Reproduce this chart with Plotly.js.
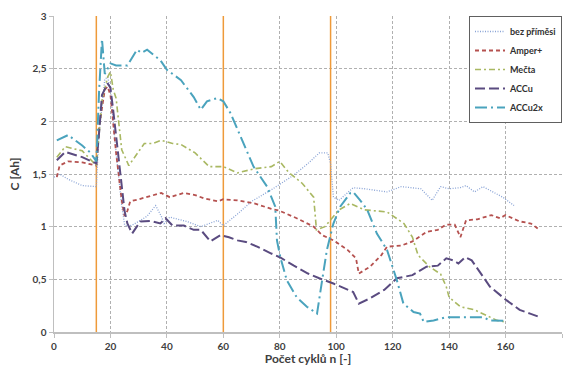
<!DOCTYPE html>
<html>
<head>
<meta charset="utf-8">
<script src="https://cdn.plot.ly/plotly-3.0.1.min.js"></script>
<style>html,body{margin:0;padding:0;background:#fff;}#chart{width:568px;height:370px;}</style>
</head>
<body>
<div id="chart"></div>
<script>
// ---- data ----
const seriesNames = ["bez příměsi", "Amper+", "Mečta", "ACCu", "ACCu2x"];

const bezX = [0, 2, 5, 10, 15, 16, 18, 19, 20, 22, 24, 25, 26, 28, 30, 33, 36, 38, 39, 41, 44, 47, 50, 52, 55, 58, 60, 65, 70, 77, 85, 90, 94, 97, 98, 99, 101, 106, 110, 118, 123, 130, 134, 137, 140, 144, 146, 149, 152, 156, 159, 163];
const bezY = [1.47, 1.5, 1.45, 1.39, 1.38, 1.9, 2.4, 2.42, 2.3, 1.7, 1.2, 1.02, 1.0, 1.02, 1.05, 1.1, 1.2, 1.1, 1.03, 1.09, 1.07, 1.05, 1.02, 1.0, 1.03, 1.06, 1.01, 1.12, 1.24, 1.35, 1.49, 1.6, 1.7, 1.7, 1.6, 1.28, 1.25, 1.37, 1.36, 1.33, 1.38, 1.36, 1.25, 1.38, 1.36, 1.37, 1.39, 1.33, 1.38, 1.32, 1.28, 1.2];

const amperX = [1, 2, 5, 10, 15, 16, 18, 19, 20, 22, 24, 25, 26, 27, 30, 33, 38, 41, 46, 50, 53, 58, 60, 65, 71, 77, 80, 86, 92, 95, 99, 104, 107, 108, 112, 116, 118, 123, 127, 132, 136, 139, 142, 144, 146, 150, 155, 158, 160, 165, 169, 172];
const amperY = [1.47, 1.58, 1.62, 1.61, 1.58, 1.95, 2.3, 2.33, 2.25, 1.7, 1.25, 1.1, 1.15, 1.24, 1.26, 1.28, 1.32, 1.28, 1.32, 1.3, 1.27, 1.24, 1.26, 1.25, 1.22, 1.17, 1.15, 1.08, 1.0, 0.92, 0.87, 0.78, 0.7, 0.555, 0.62, 0.73, 0.81, 0.82, 0.86, 0.95, 0.97, 1.02, 1.02, 0.9, 1.06, 1.07, 1.11, 1.08, 1.11, 1.05, 1.03, 0.97];

const mectaX = [1, 4, 10, 15, 17, 19, 20, 21, 22, 23, 24, 26.5, 29, 32, 35, 38, 42, 45, 50, 55, 60, 65, 71, 77, 80, 83, 88, 92, 93, 96, 101, 105, 110, 116, 118, 124, 127, 129, 133, 137, 139, 140, 144, 149, 153, 157, 160];
const mectaY = [1.66, 1.76, 1.72, 1.58, 2.2, 2.42, 2.47, 2.3, 2.22, 2.0, 1.73, 1.58, 1.68, 1.79, 1.79, 1.82, 1.79, 1.78, 1.7, 1.57, 1.57, 1.51, 1.55, 1.57, 1.62, 1.52, 1.41, 1.28, 0.97, 1.0, 1.16, 1.22, 1.16, 1.14, 1.14, 1.03, 0.9, 0.73, 0.62, 0.55, 0.43, 0.33, 0.24, 0.21, 0.16, 0.11, 0.095];

const accuX = [1, 4, 10, 15, 16, 17, 19, 20, 21, 23, 25, 26, 27.7, 30.6, 34, 37.7, 39.5, 42, 46, 49.5, 52, 55.4, 59, 62, 65, 68, 72, 77, 80, 85, 90, 94, 99, 106, 108, 112, 117, 121.5, 127, 132, 136, 139, 141.5, 143.3, 145.7, 148, 152, 154.5, 160.4, 165, 168.7, 172.2];
const accuY = [1.63, 1.71, 1.66, 1.6, 1.9, 2.25, 2.36, 2.32, 2.1, 1.6, 1.15, 1.03, 0.935, 1.05, 1.055, 1.03, 1.08, 1.01, 1.01, 0.97, 0.97, 0.86, 0.92, 0.9, 0.87, 0.855, 0.81, 0.745, 0.71, 0.63, 0.555, 0.51, 0.46, 0.38, 0.27, 0.32, 0.4, 0.51, 0.54, 0.62, 0.63, 0.7, 0.68, 0.65, 0.71, 0.68, 0.52, 0.43, 0.3, 0.21, 0.175, 0.14];

const accu2xX = [1, 5, 10, 13, 15, 16, 17, 18, 19, 20, 22, 26, 29.4, 31, 33, 35.3, 37.7, 40, 45, 49.5, 52, 54.2, 57.8, 60, 62.5, 67, 70.7, 75.5, 78.4, 79, 80.2, 82.5, 86, 89.6, 93.2, 95, 96.7, 99, 101.4, 105, 106, 108.5, 111, 114.4, 118, 121.5, 123.8, 127.4, 129.7, 131, 134.5, 139, 146, 152, 154.5, 160];
const accu2xY = [1.82, 1.87, 1.77, 1.7, 1.62, 2.3, 2.78, 2.45, 2.5, 2.55, 2.53, 2.53, 2.68, 2.65, 2.68, 2.63, 2.58, 2.49, 2.39, 2.23, 2.11, 2.19, 2.22, 2.19, 2.08, 1.8, 1.57, 1.38, 1.19, 0.87, 0.71, 0.49, 0.33, 0.24, 0.175, 0.49, 0.78, 1.03, 1.19, 1.32, 1.33, 1.25, 1.16, 0.935, 0.78, 0.49, 0.27, 0.19, 0.175, 0.095, 0.11, 0.14, 0.14, 0.14, 0.11, 0.105];

const markerCycles = [15, 60, 98];
const xTicks = [0, 20, 40, 60, 80, 100, 120, 140, 160, 180];
const yTicks = [0, 0.5, 1, 1.5, 2, 2.5, 3];

// ---- traces ----
const styles = [
  {color: "#8aa4d6", dash: "1px,1.5px", width: 1.3},
  {color: "#b5514f", dash: "4px,3px", width: 1.8},
  {color: "#a9b862", dash: "6px,3px,2px,3px", width: 1.6},
  {color: "#5a4b80", dash: "10px,4px", width: 2},
  {color: "#4aa3bd", dash: "12px,4px,2px,4px", width: 2}
];
const xs = [bezX, amperX, mectaX, accuX, accu2xX];
const ys = [bezY, amperY, mectaY, accuY, accu2xY];

const traces = [];
markerCycles.forEach(c => {
  traces.push({x: [c, c], y: [0, 3], mode: "lines", showlegend: false, hoverinfo: "skip",
    line: {color: "#ee9a3a", width: 1.5}});
});
seriesNames.forEach((n, i) => {
  traces.push({x: xs[i], y: ys[i], name: n, mode: "lines", type: "scatter",
    line: {color: styles[i].color, dash: styles[i].dash, width: styles[i].width}});
});

const fontFam = "Lato, 'Open Sans', sans-serif";
const layout = {
  width: 568, height: 370,
  margin: {l: 54, r: 6, t: 16, b: 38, pad: 0},
  separators: ", ",
  paper_bgcolor: "#fff", plot_bgcolor: "#fff",
  font: {family: fontFam, size: 10, color: "#404040"},
  xaxis: {
    range: [0, 180], tickvals: xTicks, ticktext: xTicks.map(String),
    showgrid: true, gridcolor: "#b0b0b0", griddash: "3px,2px", gridwidth: 1,
    showline: true, linecolor: "#bfbfbf", linewidth: 1.5,
    ticks: "outside", ticklen: 4, tickcolor: "#bfbfbf",
    zeroline: false,
    tickfont: {family: fontFam, size: 10, color: "#404040", weight: "bold"},
    title: {text: "<b>Počet cyklů n [-]</b>", font: {family: fontFam, size: 12, color: "#404040"}, standoff: 4}
  },
  yaxis: {
    range: [0, 3], tickvals: yTicks, ticktext: ["0", "0,5", "1", "1,5", "2", "2,5", "3"],
    showgrid: true, gridcolor: "#b0b0b0", griddash: "3px,2px", gridwidth: 1,
    showline: true, linecolor: "#bfbfbf", linewidth: 1.5,
    ticks: "outside", ticklen: 4, tickcolor: "#bfbfbf",
    zeroline: false,
    tickfont: {family: fontFam, size: 10, color: "#404040", weight: "bold"},
    title: {text: "<b>C [Ah]</b>", font: {family: fontFam, size: 12, color: "#404040"}, standoff: 10}
  },
  legend: {
    x: 1, xanchor: "right", y: 1, yanchor: "top",
    bgcolor: "#fff", bordercolor: "#606060", borderwidth: 1,
    font: {family: fontFam, size: 9, color: "#303030", weight: "bold"},
    itemwidth: 30, tracegroupgap: 0
  },
  showlegend: true
};

Plotly.newPlot("chart", traces, layout, {displayModeBar: false, staticPlot: true});
</script>
</body>
</html>
